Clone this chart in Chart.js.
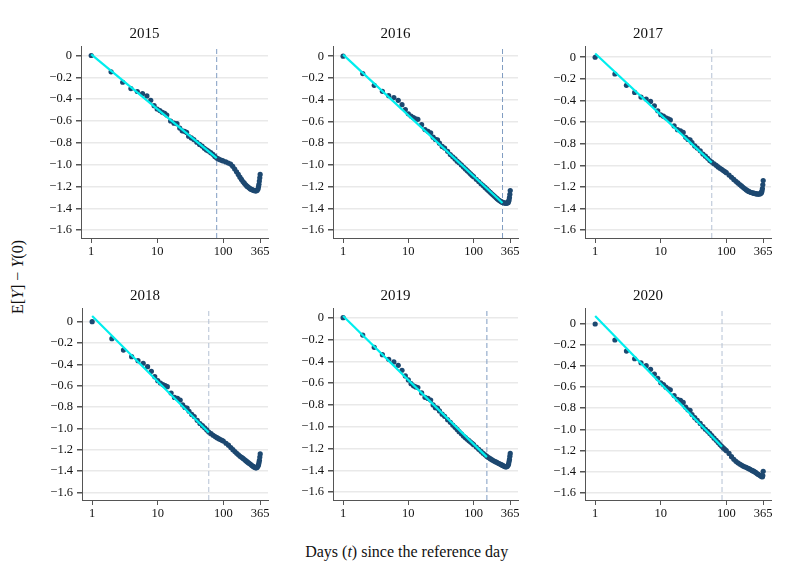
<!DOCTYPE html>
<html>
<head>
<meta charset="utf-8">
<script src="https://cdn.jsdelivr.net/npm/chart.js@4.4.1/dist/chart.umd.min.js"></script>
<style>
  html, body { margin: 0; padding: 0; background: #fff; }
  #wrap {
    position: relative; width: 797px; height: 580px; overflow: hidden;
    font-family: 'Liberation Serif', 'Times New Roman', serif; color: #111;
  }
  .panel { position: absolute; }
  .xtitle {
    position: absolute; left: 406.7px; top: 543px; transform: translateX(-50%);
    white-space: nowrap; font-size: 16px; line-height: 18px;
  }
  .ytitle {
    position: absolute; left: 18px; top: 277px;
    transform: translate(-50%, -50%) rotate(-90deg);
    white-space: nowrap; font-size: 16px; line-height: 18px;
  }
</style>
</head>
<body>
<div id="wrap">
  <div class="ytitle">E[<i>Y</i>] − <i>Y</i>(0)</div>
  <div class="xtitle">Days (<i>t</i>) since the reference day</div>
</div>
<script>
// Données (jours depuis le jour de référence)
const YEARS = ['2015', '2016', '2017', '2018', '2019', '2020'];

const DAYS = [1, 2, 3, 4, 5, 6, 7, 8, 9, 10, 11, 12, 13, 14, 16, 18, 20, 22, 24, 26, 28, 30,
  33, 36, 40, 44, 48, 52, 56, 60, 65, 70, 75, 80, 85, 90, 95, 100,
  110, 120, 130, 140, 150, 160, 170, 180, 190, 200, 210, 220, 230, 240, 250, 260,
  270, 280, 290, 300, 310, 320, 330, 340, 345, 350, 355, 360, 365];

const Y_2015 = [0, -0.15, -0.245, -0.303, -0.33, -0.35, -0.37, -0.41, -0.46, -0.49,
  -0.505, -0.52, -0.53, -0.545, -0.6, -0.62, -0.625, -0.665, -0.69, -0.695, -0.705, -0.74,
  -0.755, -0.77, -0.795, -0.815, -0.83, -0.85, -0.865, -0.875,
  -0.89, -0.905, -0.925, -0.94, -0.948, -0.955, -0.96, -0.966,
  -0.975, -0.985, -0.995, -1.015, -1.04, -1.065, -1.09, -1.115, -1.135, -1.155, -1.17, -1.185,
  -1.197, -1.205, -1.215, -1.222, -1.227, -1.232, -1.235, -1.238, -1.24, -1.24, -1.235, -1.22,
  -1.2, -1.18, -1.15, -1.12, -1.09];

const Y_2016 = [0, -0.16, -0.268, -0.323, -0.363, -0.38, -0.406, -0.446, -0.49, -0.53,
  -0.55, -0.565, -0.575, -0.58, -0.63, -0.675, -0.69, -0.705, -0.745, -0.765, -0.77, -0.8,
  -0.83, -0.845, -0.875, -0.905, -0.925, -0.945, -0.965, -0.98,
  -1.0, -1.02, -1.037, -1.053, -1.068, -1.083, -1.096, -1.108,
  -1.132, -1.153, -1.173, -1.19, -1.207, -1.223, -1.238, -1.252, -1.265, -1.277, -1.289, -1.3,
  -1.31, -1.32, -1.328, -1.335, -1.34, -1.345, -1.348, -1.35, -1.352, -1.352, -1.35, -1.345,
  -1.335, -1.32, -1.3, -1.27, -1.235];

const Y_2017 = [0, -0.155, -0.26, -0.325, -0.368, -0.387, -0.409, -0.449, -0.495, -0.532,
  -0.545, -0.56, -0.57, -0.58, -0.635, -0.67, -0.68, -0.695, -0.74, -0.76, -0.765, -0.79,
  -0.82, -0.84, -0.865, -0.895, -0.915, -0.935, -0.955, -0.97,
  -0.985, -1.0, -1.015, -1.027, -1.037, -1.048, -1.058, -1.068,
  -1.09, -1.11, -1.13, -1.148, -1.163, -1.177, -1.19, -1.203, -1.214, -1.225, -1.234, -1.241,
  -1.247, -1.251, -1.254, -1.257, -1.26, -1.262, -1.264, -1.265, -1.266, -1.265, -1.262, -1.255,
  -1.248, -1.235, -1.215, -1.18, -1.14];

const Y_2018 = [0, -0.16, -0.266, -0.328, -0.366, -0.39, -0.422, -0.466, -0.516, -0.553,
  -0.575, -0.59, -0.6, -0.61, -0.67, -0.71, -0.72, -0.735, -0.78, -0.805, -0.81, -0.84,
  -0.87, -0.89, -0.925, -0.955, -0.975, -0.995, -1.015, -1.035,
  -1.05, -1.065, -1.077, -1.088, -1.097, -1.105, -1.112, -1.12,
  -1.14, -1.158, -1.18, -1.2, -1.218, -1.234, -1.248, -1.262, -1.272, -1.282, -1.293, -1.303,
  -1.313, -1.322, -1.33, -1.338, -1.346, -1.354, -1.36, -1.366, -1.37, -1.37, -1.366, -1.35,
  -1.34, -1.32, -1.3, -1.27, -1.24];

const Y_2019 = [0, -0.159, -0.272, -0.339, -0.382, -0.406, -0.437, -0.482, -0.534, -0.571,
  -0.605, -0.625, -0.635, -0.64, -0.69, -0.73, -0.74, -0.755, -0.8, -0.825, -0.83, -0.855,
  -0.885, -0.905, -0.935, -0.96, -0.985, -1.005, -1.025, -1.045,
  -1.065, -1.085, -1.1, -1.115, -1.128, -1.14, -1.152, -1.165,
  -1.187, -1.207, -1.225, -1.243, -1.258, -1.272, -1.283, -1.293, -1.302, -1.31, -1.317, -1.323,
  -1.329, -1.335, -1.34, -1.345, -1.35, -1.355, -1.36, -1.365, -1.368, -1.368, -1.363, -1.35,
  -1.34, -1.32, -1.3, -1.27, -1.245];

const Y_2020 = [0, -0.152, -0.257, -0.33, -0.368, -0.396, -0.431, -0.475, -0.516, -0.558,
  -0.575, -0.6, -0.615, -0.625, -0.68, -0.715, -0.725, -0.745, -0.79, -0.815, -0.82, -0.86,
  -0.89, -0.915, -0.945, -0.975, -1.0, -1.02, -1.04, -1.06,
  -1.085, -1.105, -1.125, -1.145, -1.162, -1.177, -1.19, -1.203,
  -1.23, -1.26, -1.285, -1.305, -1.318, -1.33, -1.34, -1.35, -1.356, -1.362, -1.368, -1.374,
  -1.38, -1.388, -1.393, -1.398, -1.404, -1.41, -1.418, -1.425, -1.43, -1.435, -1.44, -1.445,
  -1.448, -1.45, -1.45, -1.44, -1.4];

const SERIES = [Y_2015, Y_2016, Y_2017, Y_2018, Y_2019, Y_2020];

// Droite ajustée (jour 1 -> jour de rupture) et jour de rupture
const FIT_START = [0.01, 0.015, 0.034, 0.053, 0.015, 0.076];
const FIT_END = [-0.94, -1.35, -0.975, -1.04, -1.279, -1.166];
const BREAK_DAY = [80, 278, 60, 60, 160, 86];

const X_TICKS = [1, 10, 100, 365];
const Y_TICKS = [0, -0.2, -0.4, -0.6, -0.8, -1.0, -1.2, -1.4, -1.6];

// Bornes des axes de chaque panneau
const Y_MIN = -1.672;
const Y_MAX = [0.087, 0.094, 0.104, 0.128, 0.089, 0.152];
const X_MIN = 0.74;
const X_MAX = 480;

// Zone de tracé de chaque panneau, en pixels de la page
const GEOM = [
  { left: 81, right: 268, top: 46, bottom: 238 },
  { left: 333, right: 518, top: 46, bottom: 238 },
  { left: 585, right: 771, top: 46, bottom: 238 },
  { left: 82, right: 268, top: 308, bottom: 500 },
  { left: 333, right: 518, top: 308, bottom: 500 },
  { left: 585, right: 771, top: 308, bottom: 500 }
];
const DASH_COLORS = ['#7f9cc2', '#7f9cc2', '#b4c1d4', '#b4c1d4', '#7f9cc2', '#b4c1d4'];

const FONT = "'Liberation Serif', 'Times New Roman', serif";
const AXIS_W = 60, TITLE_H = 40, XAXIS_H = 30, PAD_R = 14;

Chart.defaults.font.family = FONT;
Chart.defaults.color = '#111';

function fmtY(v) {
  if (Math.abs(v) < 1e-9) return '0';
  return (v < 0 ? '\u2212' : '') + Math.abs(v).toFixed(1);
}

const wrap = document.getElementById('wrap');

YEARS.forEach((year, i) => {
  const g = GEOM[i];
  const w = (g.right - g.left) + AXIS_W + PAD_R;
  const h = (g.bottom - g.top) + TITLE_H + XAXIS_H;

  const div = document.createElement('div');
  div.className = 'panel';
  div.style.left = (g.left - AXIS_W) + 'px';
  div.style.top = (g.top - TITLE_H) + 'px';
  div.style.width = w + 'px';
  div.style.height = h + 'px';
  const canvas = document.createElement('canvas');
  canvas.width = w;
  canvas.height = h;
  canvas.style.width = w + 'px';
  canvas.style.height = h + 'px';
  div.appendChild(canvas);
  wrap.appendChild(div);

  const dots = DAYS.map((d, k) => ({ x: d, y: SERIES[i][k] }));

  new Chart(canvas.getContext('2d'), {
    data: {
      datasets: [
        {
          type: 'line',
          data: [{ x: 1, y: FIT_START[i] }, { x: BREAK_DAY[i], y: FIT_END[i] }],
          borderColor: '#00eeee',
          borderWidth: 2.2,
          pointRadius: 0,
          order: 0
        },
        {
          type: 'scatter',
          data: dots,
          backgroundColor: '#1d4870',
          borderWidth: 0,
          pointRadius: 2.6,
          order: 1
        },
        {
          type: 'line',
          data: [{ x: BREAK_DAY[i], y: Y_MIN }, { x: BREAK_DAY[i], y: Y_MAX[i] }],
          borderColor: DASH_COLORS[i],
          borderWidth: 1,
          borderDash: [5, 3],
          pointRadius: 0,
          order: 2
        }
      ]
    },
    options: {
      responsive: false,
      animation: false,
      layout: { padding: { left: 0, right: PAD_R, top: 0, bottom: 0 } },
      plugins: {
        legend: { display: false },
        tooltip: { enabled: false },
        title: {
          display: true,
          text: year,
          color: '#111',
          font: { family: FONT, size: 15, weight: 'normal' },
          padding: { top: 19, bottom: 3 }
        }
      },
      scales: {
        x: {
          type: 'logarithmic',
          min: X_MIN,
          max: X_MAX,
          afterBuildTicks: s => { s.ticks = X_TICKS.map(v => ({ value: v })); },
          afterFit: s => { s.height = XAXIS_H; },
          ticks: {
            callback: v => String(v),
            autoSkip: false,
            maxRotation: 0,
            padding: 1,
            color: '#111',
            font: { family: FONT, size: 12.5 }
          },
          grid: { drawOnChartArea: false, drawTicks: true, tickLength: 5, tickColor: '#555' },
          border: { display: true, color: '#555', width: 1 }
        },
        y: {
          type: 'linear',
          min: Y_MIN,
          max: Y_MAX[i],
          afterBuildTicks: s => { s.ticks = Y_TICKS.map(v => ({ value: v })); },
          afterFit: s => { s.width = AXIS_W; },
          ticks: {
            callback: v => fmtY(v),
            padding: 4,
            color: '#111',
            font: { family: FONT, size: 12.5 }
          },
          grid: { color: '#e9e9e9', lineWidth: 1.5, tickLength: 5, tickColor: '#555' },
          border: { display: true, color: '#555', width: 1 }
        }
      }
    }
  });
});
</script>
</body>
</html>
